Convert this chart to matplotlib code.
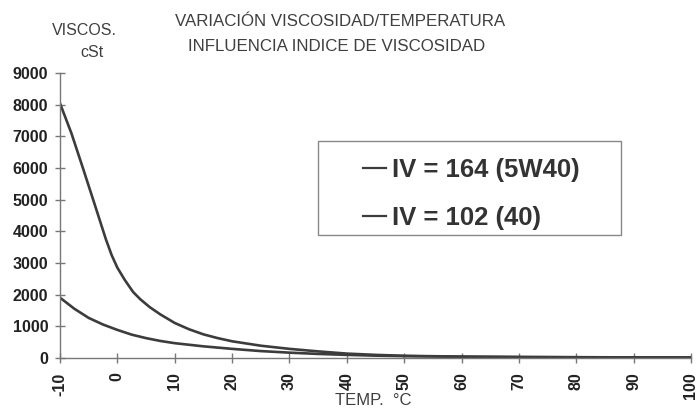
import matplotlib
matplotlib.use('Agg')
import matplotlib.pyplot as plt
from matplotlib.patches import Rectangle

plt.rcParams['font.family'] = ['Liberation Sans', 'DejaVu Sans']

# temperatures (ºC) and viscosities (cSt)
temp_40 = [-10, -8, -6, -4, -2, -1, 0, 1.3, 2.75, 4, 5.65, 7.5, 10, 12.5, 15,
           17.5, 20, 25, 30, 35, 40, 45, 50, 60, 70, 80, 90, 100]
visc_40 = [8050, 7100, 6000, 4880, 3750, 3250, 2850, 2460, 2080, 1850, 1600,
           1370, 1100, 900, 740, 620, 520, 380, 280, 200, 130, 90, 60, 35, 22,
           15, 11, 8]
temp_5w40 = [-10, -7.5, -5, -2.5, 0, 2.5, 5, 7.5, 10, 15, 20, 25, 30, 35, 40,
             45, 50, 60, 70, 80, 90, 100]
visc_5w40 = [1900, 1550, 1260, 1050, 880, 730, 620, 530, 460, 360, 280, 210,
             160, 120, 90, 65, 50, 30, 20, 14, 10, 7]

labels = ['IV = 164 (5W40)', 'IV = 102 (40)']
xticks = list(range(-10, 101, 10))
yticks = list(range(0, 9001, 1000))

fig = plt.figure(figsize=(6.99, 4.09), dpi=100)
ax = fig.add_axes([0.0858, 0.1254, 0.9027, 0.6954])

line_col = '#3c3c3c'
ax.plot(temp_5w40, visc_5w40, color=line_col, lw=1.9, label=labels[0])
ax.plot(temp_40, visc_40, color=line_col, lw=1.9, label=labels[1])

ax.set_xlim(-10, 100)
ax.set_ylim(0, 9000)
ax.set_xticks(xticks)
ax.set_yticks(yticks)
ax.set_xticklabels([str(t) for t in xticks], rotation=90)

for s in ['top', 'right']:
    ax.spines[s].set_visible(False)
for s in ['left', 'bottom']:
    ax.spines[s].set_color('#777777')
    ax.spines[s].set_linewidth(1)

ax.tick_params(direction='inout', length=7, width=1, color='#777777',
               labelsize=11.5, labelcolor='#222222')
ax.tick_params(axis='y', pad=5)
ax.tick_params(axis='x', pad=7)
for lab in ax.get_xticklabels() + ax.get_yticklabels():
    lab.set_fontweight('bold')

# titles and axis captions
gray = '#3f3f3f'
fig.text(0.486, 0.948, 'VARIACIÓN VISCOSIDAD/TEMPERATURA', ha='center',
         va='center', fontsize=12.2, color=gray)
fig.text(0.481, 0.887, 'INFLUENCIA INDICE DE VISCOSIDAD', ha='center',
         va='center', fontsize=12.2, color=gray)
fig.text(0.121, 0.925, 'VISCOS.', ha='center', va='center', fontsize=11.5,
         color=gray)
fig.text(0.132, 0.872, 'cSt', ha='center', va='center', fontsize=11.5,
         color=gray)
fig.text(0.534, 0.02, 'TEMP.  °C', ha='center', va='center', fontsize=12,
         color=gray)

# legend box
fig.patches.append(Rectangle((318 / 699, 1 - 235 / 409), 303 / 699, 94 / 409,
                             transform=fig.transFigure, fill=False,
                             edgecolor='#888888', lw=1))
leg = ax.legend(loc='upper left', bbox_to_anchor=(350 / 699, 1 - 145 / 409),
                bbox_transform=fig.transFigure, frameon=False,
                prop={'size': 18.5, 'weight': 'bold'}, handlelength=0.9,
                handletextpad=0.25, labelspacing=0.95, borderpad=0)
for t in leg.get_texts():
    t.set_color('#333333')
for h in leg.get_lines():
    h.set_linewidth(1.6)

fig.savefig('out.png', dpi=100)
